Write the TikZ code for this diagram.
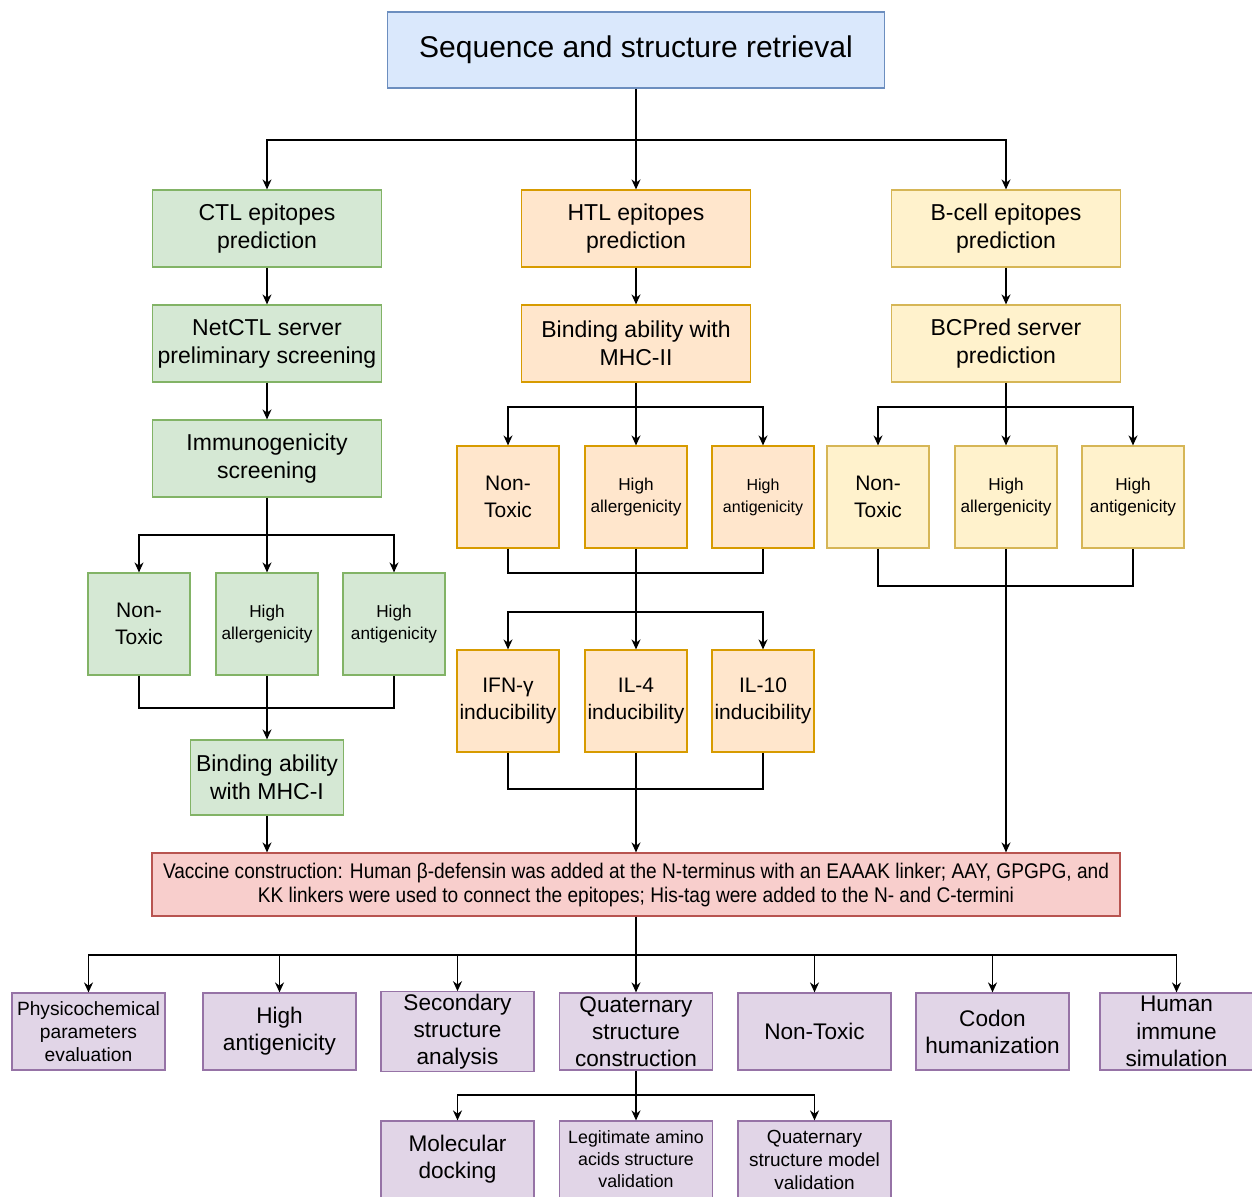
\documentclass[tikz,border=0pt]{standalone}
\usepackage{fontspec}
\setmainfont{Liberation Sans}
\newfontfamily\narrowfont[FakeStretch=0.9]{Liberation Sans}
\usepackage{tikz}
\usetikzlibrary{arrows.meta}
\definecolor{blueF}{HTML}{DAE8FC}
\definecolor{blueD}{HTML}{6C8EBF}
\definecolor{greenF}{HTML}{D5E8D4}
\definecolor{greenD}{HTML}{82B366}
\definecolor{orangeF}{HTML}{FFE6CC}
\definecolor{orangeD}{HTML}{D79B00}
\definecolor{yellowF}{HTML}{FFF2CC}
\definecolor{yellowD}{HTML}{D6B656}
\definecolor{redF}{HTML}{F8CECC}
\definecolor{redD}{HTML}{B85450}
\definecolor{purpleF}{HTML}{E1D5E7}
\definecolor{purpleD}{HTML}{9673A6}

\begin{document}
\begin{tikzpicture}[x=0.5pt, y=-0.5pt,
    box/.style={draw, line width=0.6pt, inner sep=1pt, align=center},
    wide/.style={box, minimum width=114.5pt, minimum height=38.5pt,
      font=\fontsize{11.5pt}{14pt}\selectfont},
    sq/.style={box, minimum width=51pt, minimum height=51pt},
    low/.style={box, minimum width=76.5pt, minimum height=38.5pt,
      font=\fontsize{11.3pt}{13.6pt}\selectfont},
    big/.style={font=\fontsize{10.5pt}{13.5pt}\selectfont},
    small/.style={font=\fontsize{8.6pt}{11pt}\selectfont},
    ctlbox/.style={fill=greenF, draw=greenD},
    htlbox/.style={fill=orangeF, draw=orangeD},
    bbox/.style={fill=yellowF, draw=yellowD},
    evalbox/.style={fill=purpleF, draw=purpleD},
    arr/.style={-{Stealth[length=5pt, width=4.5pt]}},
    every path/.style={line width=0.7pt}]
    \useasboundingbox (0,0) rectangle (1252,1196);

    % Retrieval
    \node[box, fill=blueF, draw=blueD, minimum width=248.5pt, minimum height=38pt,
      font=\fontsize{15pt}{18pt}\selectfont] (top) at (636,50)
      {Sequence and structure retrieval};

    % Three epitope columns
    \node[wide, ctlbox] (ctl) at (267,228.5) {CTL epitopes\\prediction};
    \node[wide, htlbox] (htl) at (636,228.5) {HTL epitopes\\prediction};
    \node[wide, bbox] (bcell) at (1006,228.5) {B-cell epitopes\\prediction};

    \node[wide, ctlbox] (netctl) at (267,343.5) {NetCTL server\\preliminary screening};
    \node[wide, htlbox] (mhcii) at (636,343.5) {Binding ability with\\MHC-II};
    \node[wide, bbox] (bcpred) at (1006,343.5) {BCPred server\\prediction};

    \node[wide, ctlbox] (immuno) at (267,458.5) {Immunogenicity\\screening};

    % CTL filters
    \node[sq, ctlbox, big] (c1) at (139,624) {Non-\\Toxic};
    \node[sq, ctlbox, small] (c2) at (267,624) {High\\allergenicity};
    \node[sq, ctlbox, small] (c3) at (394,624) {High\\antigenicity};
    \node[box, ctlbox, minimum width=76.5pt, minimum height=37.5pt,
      font=\fontsize{11.5pt}{14pt}\selectfont] (mhci) at (267,777.5)
      {Binding ability\\with MHC-I};

    % HTL filters
    \node[sq, htlbox, big] (h1) at (508,497) {Non-\\Toxic};
    \node[sq, htlbox, small] (h2) at (636,497) {High\\allergenicity};
    \node[sq, htlbox, font=\fontsize{8pt}{11pt}\selectfont] (h3) at (763,497) {High\\antigenicity};
    \node[sq, htlbox, big] (i1) at (508,701) {IFN-γ\\inducibility};
    \node[sq, htlbox, big] (i2) at (636,701) {IL-4\\inducibility};
    \node[sq, htlbox, big] (i3) at (763,701) {IL-10\\inducibility};

    % B-cell filters
    \node[sq, bbox, big] (b1) at (878,497) {Non-\\Toxic};
    \node[sq, bbox, small] (b2) at (1006,497) {High\\allergenicity};
    \node[sq, bbox, small] (b3) at (1133,497) {High\\antigenicity};

    % Vaccine construction
    \node[box, fill=redF, draw=redD, minimum width=484pt, minimum height=31.5pt,
      font=\narrowfont\fontsize{10.6pt}{12pt}\selectfont] (vac) at (636,884.5)
      {Vaccine construction: Human β-defensin was added at the N-terminus with an EAAAK linker; AAY, GPGPG, and\\
       KK linkers were used to connect the epitopes; His-tag were added to the N- and C-termini};

    % Evaluation
    \node[low, evalbox, font=\fontsize{9.6pt}{11.5pt}\selectfont] (d1) at (88.5,1031.5)
      {Physicochemical\\parameters\\evaluation};
    \node[low, evalbox] (d2) at (279.5,1031.5) {High\\antigenicity};
    \node[low, evalbox] (d3) at (457.5,1031.5) {Secondary\\structure\\analysis};
    \node[low, evalbox] (d4) at (636,1031.5) {Quaternary\\structure\\construction};
    \node[low, evalbox] (d5) at (814.5,1031.5) {Non-Toxic};
    \node[low, evalbox] (d6) at (992.5,1031.5) {Codon\\humanization};
    \node[low, evalbox] (d7) at (1176.5,1031.5) {Human\\immune\\simulation};

    \node[low, evalbox] (e1) at (457.5,1159.5) {Molecular\\docking};
    \node[low, evalbox, font=\fontsize{8.9pt}{11pt}\selectfont] (e2) at (636,1159.5)
      {Legitimate amino\\acids structure\\validation};
    \node[low, evalbox, font=\fontsize{9.5pt}{11.5pt}\selectfont] (e3) at (814.5,1159.5)
      {Quaternary\\structure model\\validation};

    % Junctions
    \coordinate (s1) at (636,140);
    \coordinate (s2) at (267,535);
    \coordinate (m2) at (267,708);
    \coordinate (s3) at (636,407);
    \coordinate (m3) at (636,573);
    \coordinate (s4) at (636,612);
    \coordinate (m4) at (636,789);
    \coordinate (s5) at (1006,407);
    \coordinate (m5) at (1006,586);
    \coordinate (s6) at (636,955);
    \coordinate (s7) at (636,1095);

    % Connectors
    \draw[arr] (top.south) -- (htl.north);
    \draw[arr] (s1) -| (ctl.north);
    \draw[arr] (s1) -| (bcell.north);

    \draw[arr] (ctl) -- (netctl);
    \draw[arr] (netctl) -- (immuno);
    \draw (immuno.south) -- (s2);
    \draw[arr] (s2) -| (c1.north);
    \draw[arr] (s2) -- (c2.north);
    \draw[arr] (s2) -| (c3.north);
    \draw (c1.south) |- (m2) -| (c3.south);
    \draw[arr] (c2.south) -- (mhci.north);
    \draw[arr] (mhci.south) -- (mhci.south |- vac.north);

    \draw[arr] (htl) -- (mhcii);
    \draw (mhcii.south) -- (s3);
    \draw[arr] (s3) -| (h1.north);
    \draw[arr] (s3) -- (h2.north);
    \draw[arr] (s3) -| (h3.north);
    \draw (h1.south) |- (m3) -| (h3.south);
    \draw (h2.south) -- (s4);
    \draw[arr] (s4) -| (i1.north);
    \draw[arr] (s4) -- (i2.north);
    \draw[arr] (s4) -| (i3.north);
    \draw (i1.south) |- (m4) -| (i3.south);
    \draw[arr] (i2.south) -- (vac.north);

    \draw[arr] (bcell) -- (bcpred);
    \draw (bcpred.south) -- (s5);
    \draw[arr] (s5) -| (b1.north);
    \draw[arr] (s5) -- (b2.north);
    \draw[arr] (s5) -| (b3.north);
    \draw (b1.south) |- (m5) -| (b3.south);
    \draw[arr] (b2.south) -- (b2.south |- vac.north);

    \draw (vac.south) -- (s6);
    \foreach \n in {d1,d2,d3,d5,d6,d7}
      \draw[arr] (s6) -| (\n.north);
    \draw[arr] (s6) -- (d4.north);

    \draw (d4.south) -- (s7);
    \draw[arr] (s7) -| (e1.north);
    \draw[arr] (s7) -- (e2.north);
    \draw[arr] (s7) -| (e3.north);
\end{tikzpicture}
\end{document}
